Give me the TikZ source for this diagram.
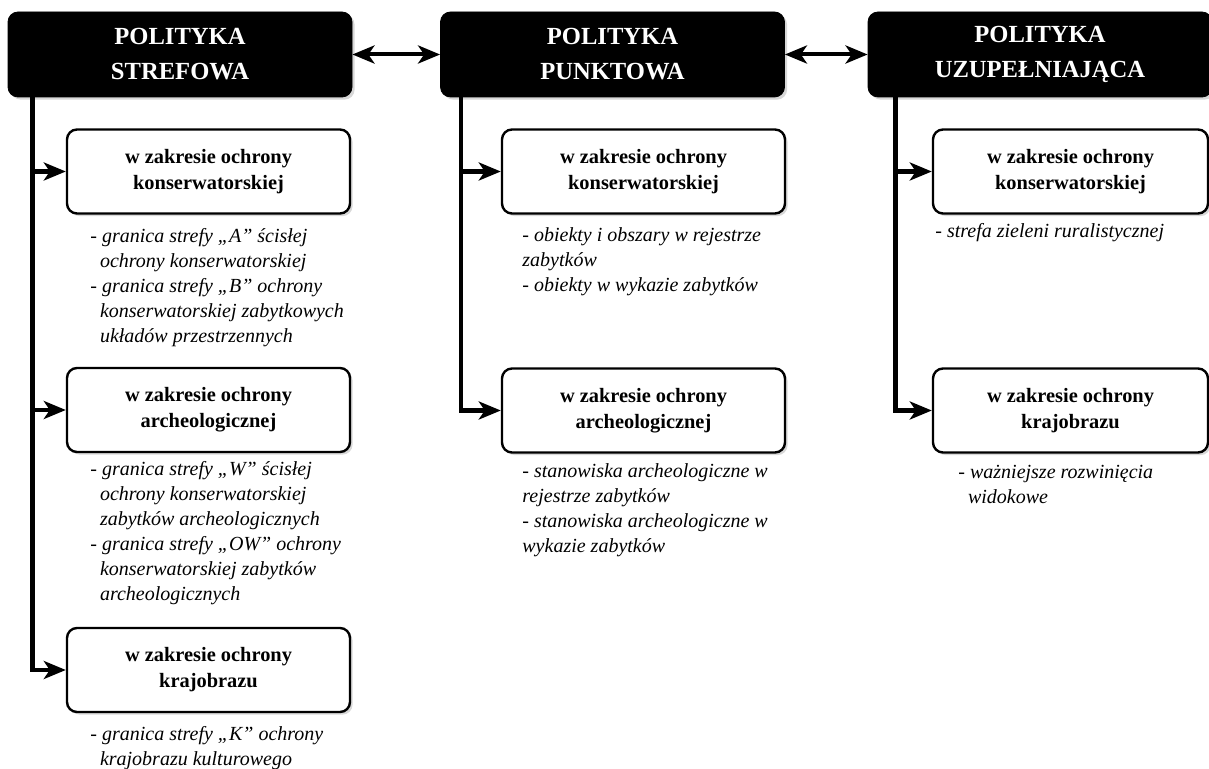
\documentclass[tikz,border=0pt]{standalone}
\usepackage{fontspec}
\setmainfont{Liberation Serif}
\usetikzlibrary{arrows.meta,shadows}

\newcommand\wcn{\hspace*{4.8pt}}

\begin{document}
\begin{tikzpicture}[x=0.5pt,y=-0.5pt]
\tikzset{head/.style={draw=black,fill=black,text=white,rounded corners=5pt,minimum width=172pt,minimum height=42.5pt,align=center,font=\bfseries\fontsize{12.3}{17.5}\selectfont,drop shadow={shadow xshift=1.3pt,shadow yshift=-1.3pt,fill=gray!60}}}
\tikzset{sub/.style={draw=black,line width=1.2pt,fill=white,rounded corners=5pt,minimum width=141.5pt,minimum height=42pt,align=center,font=\bfseries\fontsize{10.2}{13}\selectfont,drop shadow={shadow xshift=1.3pt,shadow yshift=-1.3pt,fill=gray!60}}}
\tikzset{desc/.style={anchor=north west,inner sep=0pt,align=left,font=\itshape\fontsize{10}{12.5}\selectfont}}
\tikzset{branch/.style={line width=2.2pt,-{Stealth[length=11pt,width=9pt,inset=3pt]}}}
\tikzset{link/.style={line width=2pt,{Stealth[length=11pt,width=9pt,inset=3pt]}-{Stealth[length=11pt,width=9pt,inset=3pt]}}}

\useasboundingbox (0,0) rectangle (1209,769);

% naglowki
\node[head] (strefowa) at (180,54.5) {POLITYKA\\STREFOWA};
\node[head] (punktowa) at (612.5,54.5) {POLITYKA\\PUNKTOWA};
\node[head] (uzupelniajaca) at (1040,54.5) {POLITYKA\\UZUPEŁNIAJĄCA};

\draw[link] (strefowa.east) -- (punktowa.west);
\draw[link] (punktowa.east) -- (uzupelniajaca.west);

% polityka strefowa
\node[sub] (strKons) at (208.5,171.5) {w zakresie ochrony\\konserwatorskiej};
\node[sub] (strArch) at (208.5,410) {w zakresie ochrony\\archeologicznej};
\node[sub] (strKraj) at (208.5,670) {w zakresie ochrony\\krajobrazu};

\node[desc] (strKonsTxt) at (90,228) {- granica strefy „A” ścisłej\\
\wcn ochrony konserwatorskiej\\
- granica strefy „B” ochrony\\
\wcn konserwatorskiej zabytkowych\\
\wcn układów przestrzennych};
\node[desc] (strArchTxt) at (90,461) {- granica strefy „W” ścisłej\\
\wcn ochrony konserwatorskiej\\
\wcn zabytków archeologicznych\\
- granica strefy „OW” ochrony\\
\wcn konserwatorskiej zabytków\\
\wcn archeologicznych};
\node[desc] (strKrajTxt) at (90,726) {- granica strefy „K” ochrony\\
\wcn krajobrazu kulturowego};

\coordinate (strPion) at ([xshift=12.5pt]strefowa.south west);
\draw[branch] (strPion) |- (strKraj.west);
\draw[branch] (strPion |- strKons.west) -- (strKons.west);
\draw[branch] (strPion |- strArch.west) -- (strArch.west);

% polityka punktowa
\node[sub] (pktKons) at (643.5,171.5) {w zakresie ochrony\\konserwatorskiej};
\node[sub] (pktArch) at (643.5,410.5) {w zakresie ochrony\\archeologicznej};

\node[desc] (pktKonsTxt) at (522,227) {- obiekty i obszary w rejestrze\\
zabytków\\
- obiekty w wykazie zabytków};
\node[desc] (pktArchTxt) at (522,463) {- stanowiska archeologiczne w\\
rejestrze zabytków\\
- stanowiska archeologiczne w\\
wykazie zabytków};

\coordinate (pktPion) at ([xshift=10.5pt]punktowa.south west);
\draw[branch] (pktPion) |- (pktArch.west);
\draw[branch] (pktPion |- pktKons.west) -- (pktKons.west);

% polityka uzupelniajaca
\node[sub,minimum width=137.5pt] (uzuKons) at (1070.5,171.5) {w zakresie ochrony\\konserwatorskiej};
\node[sub,minimum width=137.5pt] (uzuKraj) at (1070.5,410.5) {w zakresie ochrony\\krajobrazu};

\node[desc] (uzuKonsTxt) at (935,223) {- strefa zieleni ruralistycznej};
\node[desc] (uzuKrajTxt) at (958,465) {- ważniejsze rozwinięcia\\
\wcn widokowe};

\coordinate (uzuPion) at ([xshift=14pt]uzupelniajaca.south west);
\draw[branch] (uzuPion) |- (uzuKraj.west);
\draw[branch] (uzuPion |- uzuKons.west) -- (uzuKons.west);

\end{tikzpicture}
\end{document}
